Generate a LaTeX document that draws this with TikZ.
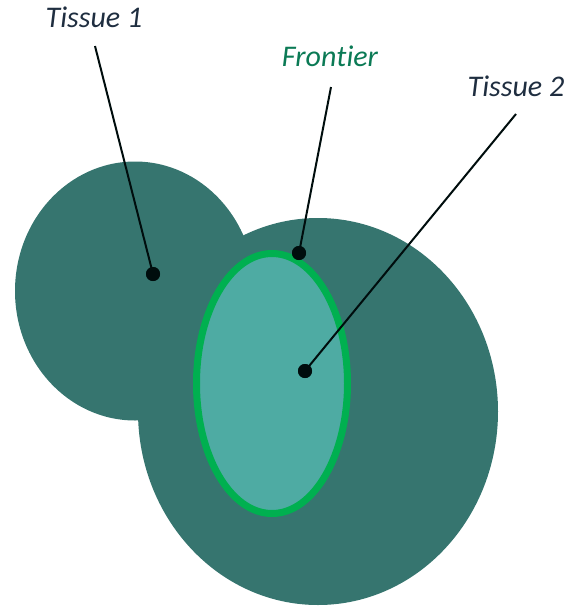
\documentclass[tikz,border=0pt]{standalone}
\usepackage{fontspec}
\setmainfont{Carlito}[Ligatures={NoCommon,NoRare}]
\definecolor{darkteal}{HTML}{36756F}
\definecolor{lightteal}{HTML}{4EABA3}
\definecolor{frontgreen}{HTML}{00B050}
\definecolor{labelnavy}{HTML}{1F2E40}
\definecolor{labelgreen}{HTML}{0B7A55}
\begin{document}
\begin{tikzpicture}[x=1pt,y=-1pt,
  lbl/.style={font=\fontsize{30}{36}\selectfont\itshape, anchor=base, inner sep=0pt, text=labelnavy},
  pin/.style={circle, fill=black!90!teal, minimum size=14pt, inner sep=0pt},
  leader/.style={line width=2pt, draw=black!90!teal}]
\useasboundingbox (0,0) rectangle (573,608);
% tissues
\fill[darkteal] (135,291) ellipse [x radius=120, y radius=129.5];
\fill[darkteal] (318,411.5) ellipse [x radius=180, y radius=193.5];
\draw[frontgreen, fill=lightteal, line width=7pt] (272,383.5) ellipse [x radius=75.5, y radius=130];
% labels
\node[lbl] (t1) at (94,27) {Tissue 1};
\node[lbl, text=labelgreen] (fr) at (330,66) {Fron\kern0pt tier};
\node[lbl] (t2) at (516,96) {Tissue 2};
% leader ends
\coordinate (t1top) at (95,46);
\coordinate (frtop) at (331,87);
\coordinate (t2top) at (516,114);
\node[pin] (p1) at (153,274) {};
\node[pin] (p2) at (299,253) {};
\node[pin] (p3) at (305,371) {};
\draw[leader] (t1top) -- (p1.center);
\draw[leader] (frtop) -- (p2.center);
\draw[leader] (t2top) -- (p3.center);
\node[pin] at (p1) {};
\node[pin] at (p2) {};
\node[pin] at (p3) {};
\end{tikzpicture}
\end{document}
